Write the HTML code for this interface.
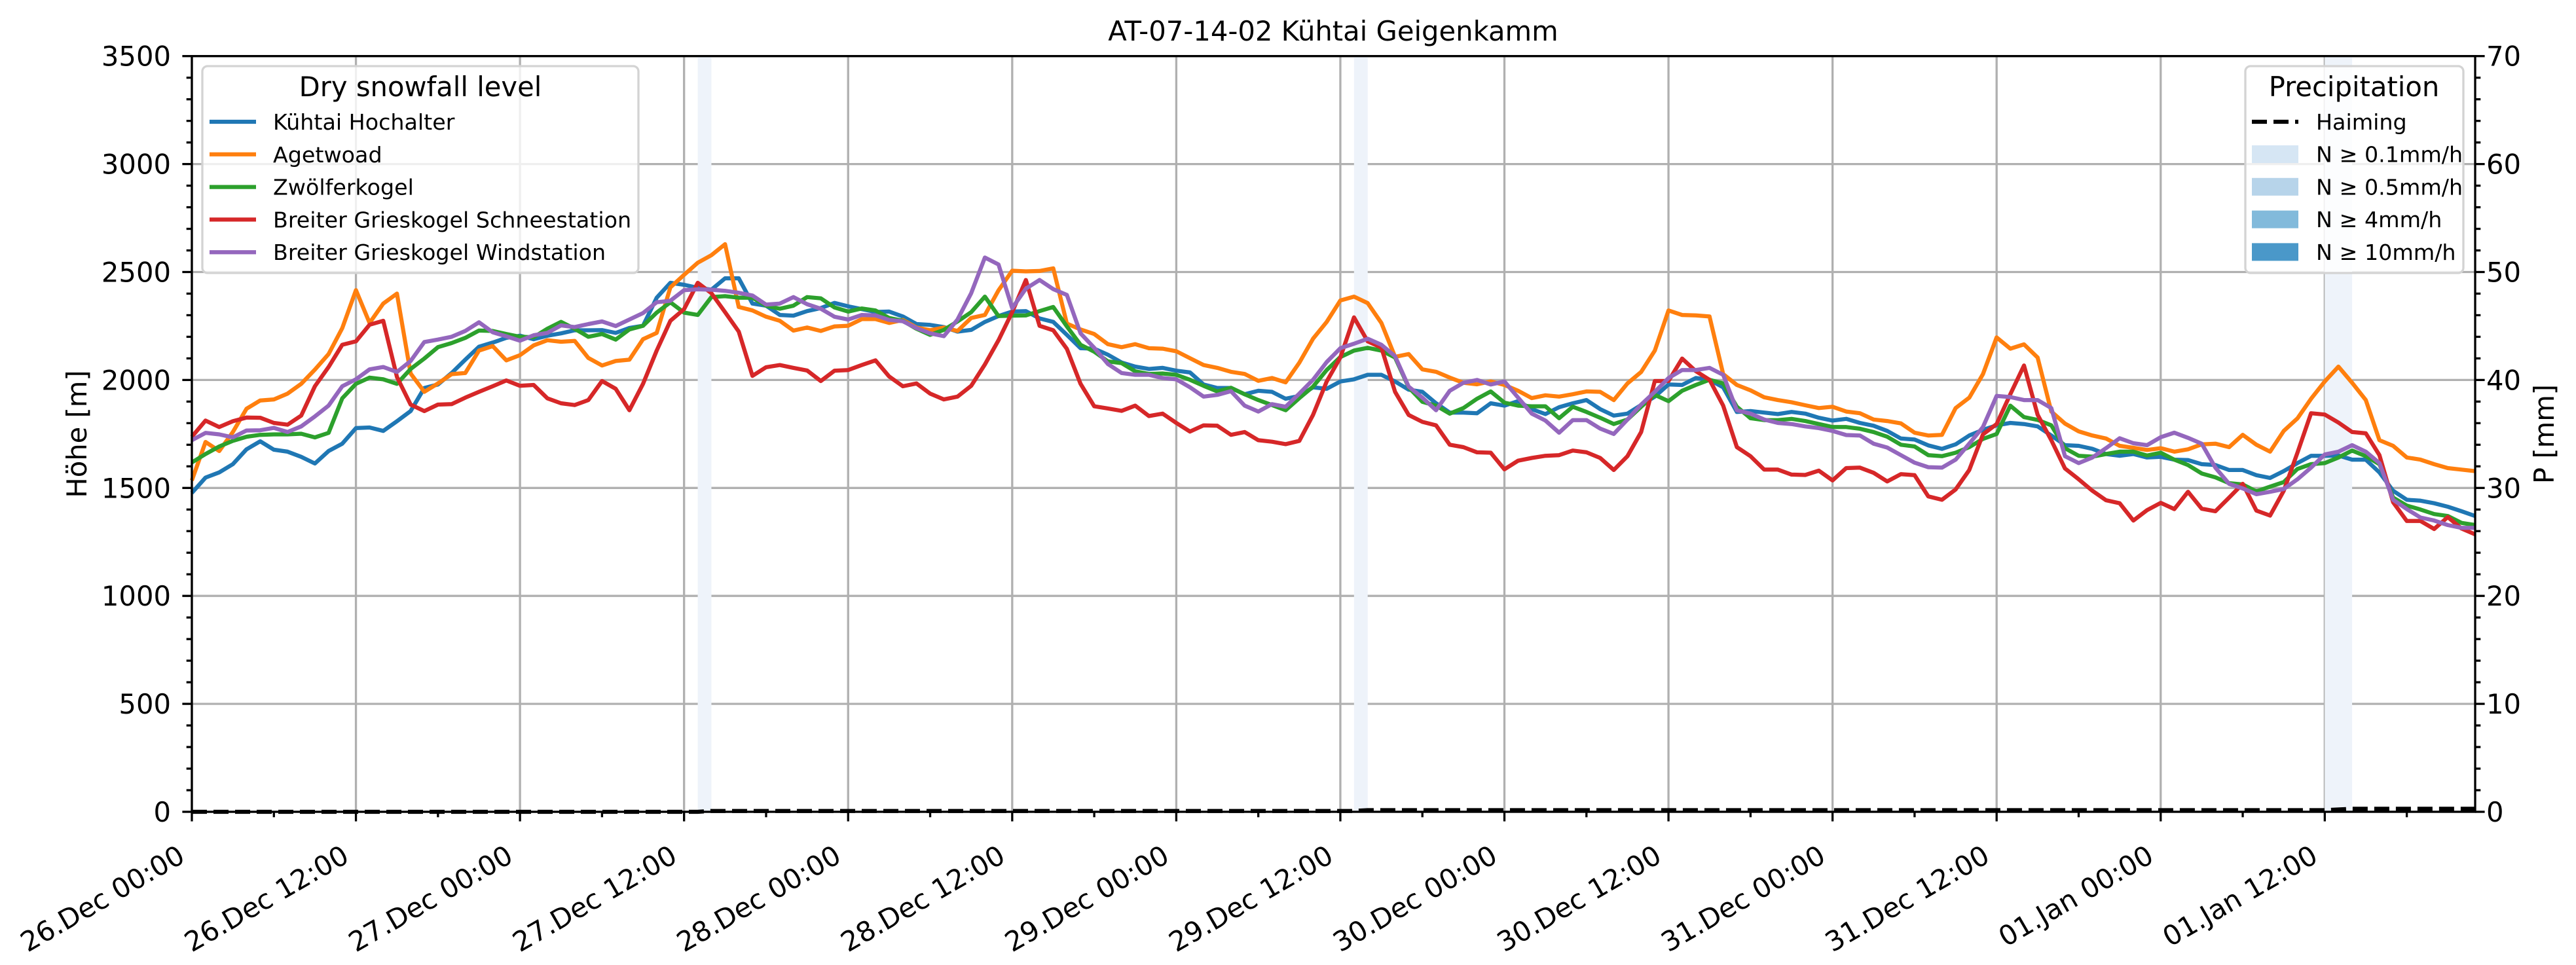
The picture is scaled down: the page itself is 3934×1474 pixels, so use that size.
<!DOCTYPE html>
<html><head><meta charset="utf-8"><style>
html,body{margin:0;padding:0;background:#fff;}
svg{display:block;font-family:"DejaVu Sans","Liberation Sans",sans-serif;}
</style></head><body>
<svg id="chart" xmlns="http://www.w3.org/2000/svg" width="3934" height="1474" viewBox="0 0 3934 1474">
<rect x="0" y="0" width="3934" height="1474" fill="#fff"/>
<text x="2036" y="62" font-size="41.7" text-anchor="middle">AT-07-14-02 Kühtai Geigenkamm</text>
<g id="grid"></g><g id="bands"></g><g id="series"></g><g id="axes"></g><g id="legends"></g>
<text transform="translate(132,663) rotate(-90)" font-size="41.7" text-anchor="middle">Höhe [m]</text>
<text transform="translate(3900,663) rotate(-90)" font-size="41.7" text-anchor="middle">P [mm]</text>
</svg>
<script>
const hochalter=[1477,1548,1572,1610,1679,1716,1677,1668,1644,1613,1671,1705,1777,1780,1764,1809,1856,1963,1979,2032,2094,2154,2173,2195,2205,2189,2205,2216,2230,2230,2231,2218,2241,2251,2381,2450,2441,2427,2418,2471,2471,2354,2344,
2301,2298,2319,2333,2357,2341,2328,2315,2317,2294,2259,2255,2245,2224,2232,2269,2296,2317,2319,2285,2269,2209,2147,2145,2117,2081,2062,2051,2056,2043,2035,1979,1963,1963,1934,1950,1945,1913,1926,1966,1959,1993,
2003,2024,2024,1993,1955,1945,1892,1849,1849,1846,1892,1881,1902,1865,1842,1874,1892,1907,1865,1835,1844,1884,1923,1979,1977,2009,2001,1966,1852,1856,1849,1842,1852,1844,1825,1812,1820,1801,1788,1764,1729,1724,
1697,1681,1702,1743,1769,1790,1801,1796,1785,1743,1698,1695,1681,1657,1649,1657,1641,1644,1631,1629,1610,1606,1583,1583,1559,1546,1578,1615,1649,1649,1650,1631,1631,1572,1487,1445,1441,1429,1413,1392,1370];
const agetwoad=[1535,1713,1671,1759,1867,1905,1910,1937,1982,2048,2120,2240,2416,2264,2354,2400,2030,1945,1984,2027,2032,2136,2157,2091,2115,2160,2184,2177,2181,2102,2067,2088,2094,2189,2218,2429,2487,2543,2578,2629,2338,2322,2293,
2274,2229,2243,2227,2248,2251,2282,2282,2264,2278,2243,2230,2243,2227,2287,2301,2415,2506,2503,2505,2517,2261,2234,2213,2166,2152,2166,2147,2145,2133,2101,2069,2056,2038,2028,1996,2009,1989,2080,2191,2269,2368,
2386,2356,2264,2107,2120,2049,2038,2011,1987,1980,1993,1977,1950,1916,1929,1923,1934,1947,1945,1907,1984,2037,2136,2322,2301,2299,2294,2027,1977,1952,1920,1907,1897,1883,1870,1876,1854,1846,1817,1810,1799,1756,
1743,1746,1870,1918,2027,2197,2145,2165,2104,1854,1798,1762,1743,1729,1695,1686,1676,1684,1668,1679,1702,1705,1689,1746,1700,1668,1764,1822,1913,1993,2062,1987,1907,1721,1695,1641,1631,1610,1592,1585,1578];
const zwoelfer=[1618,1657,1692,1718,1737,1746,1748,1748,1751,1734,1755,1915,1982,2011,2003,1982,2051,2099,2152,2171,2195,2229,2227,2213,2200,2198,2237,2269,2237,2200,2213,2187,2234,2251,2312,2360,2312,2301,2384,2388,2381,2381,2344,
2330,2344,2384,2378,2336,2317,2331,2322,2287,2274,2237,2209,2232,2271,2314,2386,2296,2298,2299,2319,2338,2248,2163,2131,2086,2078,2040,2028,2030,2024,2001,1973,1947,1964,1934,1907,1884,1860,1916,1969,2046,2106,
2136,2149,2136,2104,1966,1899,1881,1844,1870,1913,1947,1895,1881,1878,1878,1823,1876,1852,1825,1796,1817,1876,1931,1902,1950,1977,2001,1984,1876,1823,1814,1814,1820,1810,1796,1782,1782,1774,1759,1737,1700,1692,
1652,1647,1663,1689,1727,1750,1881,1828,1815,1790,1684,1649,1645,1657,1668,1668,1650,1663,1631,1606,1567,1549,1522,1516,1484,1506,1527,1588,1610,1615,1641,1673,1647,1610,1455,1418,1400,1379,1370,1338,1328];
const schneestation=[1737,1812,1782,1809,1826,1825,1801,1793,1835,1971,2060,2163,2179,2256,2274,2014,1886,1856,1886,1888,1918,1945,1971,1998,1973,1977,1915,1892,1884,1907,1995,1959,1860,1982,2136,2274,2328,2450,2402,2314,2224,2019,2059,
2069,2056,2044,1995,2043,2046,2069,2091,2016,1971,1984,1937,1910,1923,1973,2072,2184,2314,2463,2251,2230,2144,1982,1878,1868,1857,1881,1833,1844,1801,1761,1790,1788,1746,1759,1721,1714,1703,1718,1838,1993,2104,
2290,2179,2150,1945,1838,1806,1790,1700,1689,1665,1663,1586,1626,1639,1649,1652,1673,1665,1639,1583,1647,1759,1995,1995,2099,2041,2001,1881,1689,1647,1585,1585,1562,1560,1580,1535,1592,1594,1570,1530,1564,1559,
1461,1445,1493,1583,1748,1796,1934,2067,1839,1721,1590,1540,1487,1443,1429,1349,1397,1431,1402,1482,1404,1392,1455,1519,1395,1372,1487,1663,1846,1840,1803,1759,1753,1652,1434,1347,1347,1310,1365,1312,1285];
const windstation=[1721,1755,1748,1734,1766,1767,1778,1759,1785,1831,1881,1971,2003,2049,2060,2037,2088,2176,2187,2200,2227,2267,2221,2202,2182,2207,2218,2253,2245,2259,2271,2250,2280,2310,2360,2367,2416,2420,2418,2413,2404,2391,2349,
2354,2384,2351,2330,2293,2280,2301,2299,2278,2272,2240,2216,2203,2280,2402,2567,2535,2333,2423,2463,2421,2394,2216,2149,2074,2032,2024,2024,2009,2003,1966,1923,1931,1948,1881,1854,1888,1876,1937,2001,2083,2147,
2168,2191,2163,2110,1969,1918,1860,1950,1987,2000,1979,1993,1918,1844,1812,1756,1814,1814,1775,1750,1817,1886,1945,2009,2046,2046,2056,2024,1860,1844,1817,1801,1796,1785,1777,1764,1745,1743,1705,1687,1652,1617,
1596,1594,1631,1705,1782,1926,1921,1907,1907,1870,1647,1615,1641,1684,1730,1707,1698,1735,1756,1732,1705,1594,1519,1498,1471,1482,1495,1540,1594,1655,1668,1698,1668,1615,1445,1402,1363,1349,1328,1315,1315];
const haimingHours=[0,37,38,85,86,156,158,167];
const haimingValues=[0,0,0.08,0.08,0.15,0.15,0.28,0.28];
const precipStart=[37,85,156];
const precipEnd=[38,86,158];
const xTickLabels=["26.Dec 00:00","26.Dec 12:00","27.Dec 00:00","27.Dec 12:00","28.Dec 00:00","28.Dec 12:00","29.Dec 00:00","29.Dec 12:00","30.Dec 00:00","30.Dec 12:00","31.Dec 00:00","31.Dec 12:00","01.Jan 00:00","01.Jan 12:00"];
const yTicks=[0,500,1000,1500,2000,2500,3000,3500];
const y2Ticks=[0,10,20,30,40,50,60,70];
const seriesNames=["Kühtai Hochalter","Agetwoad","Zwölferkogel","Breiter Grieskogel Schneestation","Breiter Grieskogel Windstation"];
const seriesColors=["#1f77b4","#ff7f0e","#2ca02c","#d62728","#9467bd"];
const seriesData=[hochalter,agetwoad,zwoelfer,schneestation,windstation];

const NS="http://www.w3.org/2000/svg";
const L=293,R=3780,T=85.7,B=1240,HMAX=167;
const X=h=>L+h*(R-L)/HMAX;
const Y=v=>B-v*(B-T)/3500;
const PY=p=>B-p*(B-T)/70;
function mk(tag,parent,attrs){const e=document.createElementNS(NS,tag);for(const k in attrs)e.setAttribute(k,attrs[k]);parent.appendChild(e);return e;}
const grid=document.getElementById('grid'),bands=document.getElementById('bands'),ser=document.getElementById('series'),axes=document.getElementById('axes'),leg=document.getElementById('legends');

yTicks.forEach(v=>{const g=mk('line',grid,{x1:L,x2:R,y1:Y(v),y2:Y(v),stroke:'#b0b0b0','stroke-width':3.3});

});
xTickLabels.forEach((t,i)=>{const g=mk('line',grid,{x1:X(i*12),x2:X(i*12),y1:T,y2:B,stroke:'#b0b0b0','stroke-width':3.3});

});

precipStart.forEach((s,i)=>{const r=mk('rect',bands,{x:X(s),y:T,width:X(precipEnd[i])-X(s),height:B-T,fill:'#eef3fa'});

});

seriesData.forEach((d,si)=>{const p=mk('polyline',ser,{points:d.map((v,h)=>X(h).toFixed(1)+','+Y(v).toFixed(1)).join(' '),fill:'none',stroke:seriesColors[si],'stroke-width':6.25,'stroke-linejoin':'round'});

});
const hl=mk('polyline',ser,{points:haimingHours.map((h,i)=>X(h).toFixed(1)+','+PY(haimingValues[i]).toFixed(1)).join(' '),fill:'none',stroke:'#000','stroke-width':6.25,'stroke-dasharray':'23 10'});



const sp=mk('rect',axes,{x:L,y:T,width:R-L,height:B-T,fill:'none',stroke:'#000','stroke-width':3.3});


for(let v=0;v<=3500;v+=100){const maj=v%500===0;mk('line',axes,{x1:L,x2:L-(maj?14.6:8.3),y1:Y(v),y2:Y(v),stroke:'#000','stroke-width':3.3});}
yTicks.forEach(v=>{const t=mk('text',axes,{x:261,y:Y(v)+15,'font-size':41.7,'text-anchor':'end'});t.textContent=v;

});
for(let p=0;p<=70;p+=2){const maj=p%10===0;mk('line',axes,{x1:R,x2:R+(maj?14.6:8.3),y1:PY(p),y2:PY(p),stroke:'#000','stroke-width':3.3});}
y2Ticks.forEach(p=>{const t=mk('text',axes,{x:3797,y:PY(p)+15,'font-size':41.7,'text-anchor':'start'});t.textContent=p;

});
for(let h=0;h<=HMAX;h+=6){const maj=h%12===0;mk('line',axes,{x1:X(h),x2:X(h),y1:B,y2:B+(maj?14.6:8.3),stroke:'#000','stroke-width':3.3});}
xTickLabels.forEach((s,i)=>{const x=X(i*12)-8,y=1315;const t=mk('text',axes,{transform:`translate(${x},${y}) rotate(-30)`,'font-size':41.7,'text-anchor':'end'});t.textContent=s;

});

const lg1=mk('g',leg,{});


mk('rect',lg1,{x:309,y:101,width:666,height:316,rx:8,fill:'#fff','fill-opacity':0.8,stroke:'#d3d3d3','stroke-width':3.3});
let tt=mk('text',lg1,{x:642,y:147,'font-size':41.7,'text-anchor':'middle'});tt.textContent='Dry snowfall level';
seriesNames.forEach((n,i)=>{const y=186+i*49.8;const e=mk('g',lg1,{});


mk('line',e,{x1:320,x2:391,y1:y,y2:y,stroke:seriesColors[i],'stroke-width':6.25});
const t=mk('text',e,{x:417,y:y+12,'font-size':33.3});t.textContent=n;});

const lg2=mk('g',leg,{});


mk('rect',lg2,{x:3429,y:101,width:333,height:316,rx:8,fill:'#fff','fill-opacity':0.8,stroke:'#d3d3d3','stroke-width':3.3});
tt=mk('text',lg2,{x:3595,y:147,'font-size':41.7,'text-anchor':'middle'});tt.textContent='Precipitation';
const e0=mk('g',lg2,{});


mk('line',e0,{x1:3439,x2:3510,y1:186,y2:186,stroke:'#000','stroke-width':6.25,'stroke-dasharray':'23 10'});
let t0=mk('text',e0,{x:3537,y:198,'font-size':33.3});t0.textContent='Haiming';
const patchColors=['#d6e6f4','#b7d4ea','#82badb','#4a98c9'];
const patchLabels=['N ≥ 0.1mm/h','N ≥ 0.5mm/h','N ≥ 4mm/h','N ≥ 10mm/h'];
patchLabels.forEach((s,i)=>{const y=235.5+i*49.8;const e=mk('g',lg2,{});


mk('rect',e,{x:3439,y:y-13.5,width:71,height:27,fill:patchColors[i]});
const t=mk('text',e,{x:3537,y:y+12,'font-size':33.3});t.textContent=s;});
</script>
</body></html>
